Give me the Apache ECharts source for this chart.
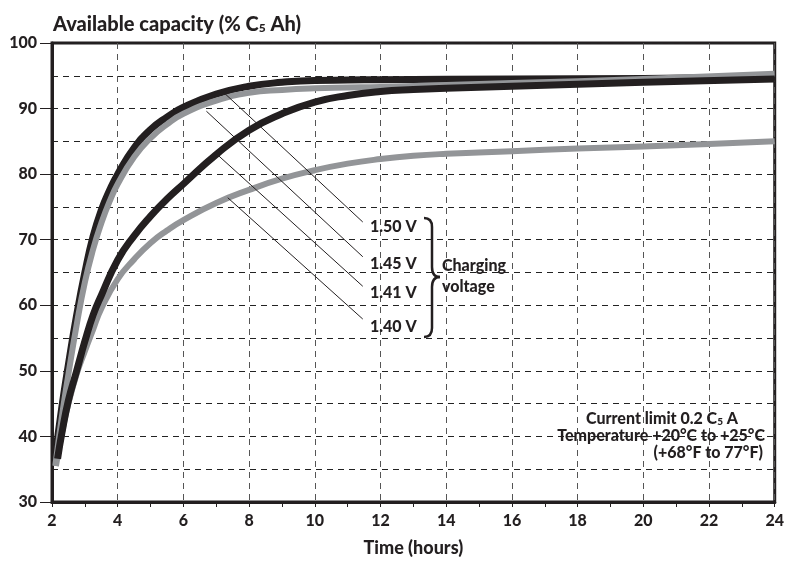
<!DOCTYPE html>
<html>
<head>
<meta charset="utf-8">
<script src="https://cdn.jsdelivr.net/npm/echarts@6/dist/echarts.min.js"></script>
<style>
html,body{margin:0;padding:0;background:#fff;}
#chart{width:787px;height:562px;}
</style>
</head>
<body>
<div id="chart"></div>
<script>
// ---- data ----
var xTicks = [2, 4, 6, 8, 10, 12, 14, 16, 18, 20, 22, 24];
var yTicks = [30, 40, 50, 60, 70, 80, 90, 100];
var seriesNames = ['1.40 V', '1.50 V', '1.45 V', '1.41 V'];
var v140 = [[2.12,35.5],[2.3,40.5],[2.5,45],[2.75,49.5],[3.0,53],[3.25,56.3],[3.5,59.5],[4,64],[4.5,67],[5,69.5],[5.5,71.4],[6,73],[7,75.6],[8,77.6],[9,79.3],[10,80.6],[11,81.6],[12,82.3],[13,82.8],[14,83.1],[16,83.5],[18,83.9],[20,84.2],[22,84.6],[24,85]];
var v150 = [[2.1,37],[2.3,44.5],[2.5,51],[2.75,58.5],[3.0,65],[3.25,70.5],[3.5,74.5],[3.75,77.5],[4.0,80],[4.5,84],[5,86.8],[5.5,88.7],[6,90.2],[7,92.2],[8,93.4],[9,94],[10,94.3],[11,94.35],[12,94.4],[16,94.5],[20,94.6],[24,94.8]];
var v145 = [[2.1,35.5],[2.3,43],[2.5,49.5],[2.75,57],[3.0,63.5],[3.25,68.5],[3.5,72.5],[3.75,75.8],[4.0,78.5],[4.5,82.6],[5,85.5],[5.5,87.6],[6,89.2],[7,91.2],[8,92.4],[9,92.85],[10,93.1],[11,93.2],[12,93.3],[14,93.6],[16,93.9],[20,94.5],[24,95.3]];
var v141 = [[2.17,36.6],[2.3,40.5],[2.5,45.5],[2.75,50],[3.0,54.5],[3.25,58.5],[3.5,61.5],[4,66.9],[4.5,70.6],[5,73.6],[5.5,76.2],[6,78.5],[7,83],[8,86.7],[9,89.2],[10,91],[11,92],[12,92.6],[13,92.9],[14,93.1],[16,93.4],[20,94],[24,94.5]];
// leader lines (data coords): [curve point, label point]
var leaders150 = [[7.26,92.3],[11.46,72.7]];
var leaders145 = [[6.70,89.6],[11.46,67.4]];
var leaders141 = [[7.05,82.9],[11.46,62.9]];
var leaders140 = [[7.35,76.4],[11.46,57.9]];

var FONT = 'Lato, "Open Sans", sans-serif';
var BLACK = '#231f20';
var GRAY = '#939598';
var W = '900';

function leader(pts) {
  return {
    silent: true, symbol: ['none','none'],
    lineStyle: {color: BLACK, width: 1, type: 'solid'},
    label: {show: false},
    emphasis: {disabled: true},
    data: [[{coord: pts[0]}, {coord: pts[1]}]]
  };
}
function mk(name, data, color, width, z, lead) {
  return {
    name: name, type: 'line', data: data, showSymbol: false, symbol: 'none',
    smooth: 0.5, z: z,
    lineStyle: {color: color, width: width, cap: 'butt', join: 'round'},
    markLine: leader(lead), animation: false
  };
}
var braceStyle = {fill: null, stroke: BLACK, lineWidth: 2.5};
function bez(x1,y1,cx,cy,x2,y2){ return {type:'bezierCurve', z:10, shape:{x1:x1,y1:y1,cpx1:cx,cpy1:cy,x2:x2,y2:y2}, style: braceStyle}; }
function seg(x1,y1,x2,y2){ return {type:'line', z:10, shape:{x1:x1,y1:y1,x2:x2,y2:y2}, style: braceStyle}; }
function txt(t, x, y, size, align) {
  return {type: 'text', z: 10, x: x, y: y, style: {text: t, font: W + ' ' + size + 'px ' + FONT, fill: BLACK, align: align || 'left', verticalAlign: 'middle',
    rich: {s: {font: W + ' ' + Math.round(size*0.65) + 'px ' + FONT, fill: BLACK, padding: [5,0,0,0]}}}};
}

var chart = echarts.init(document.getElementById('chart'), null, {renderer: 'canvas'});
var option = {
  animation: false,
  title: {
    text: 'Available capacity (% C{s|5} Ah)',
    left: 48, top: 10,
    textStyle: {fontFamily: FONT, fontWeight: W, fontSize: 20, color: BLACK,
      rich: {s: {fontFamily: FONT, fontWeight: W, fontSize: 12, color: BLACK, padding: [7,0,0,0]}}}
  },
  grid: {left: 52, right: 11, top: 43, bottom: 53, show: true, borderColor: BLACK, borderWidth: 3, containLabel: false},
  xAxis: {
    type: 'value', min: 2, max: 24, interval: 2,
    name: 'Time (hours)', nameLocation: 'middle', nameGap: 37,
    nameTextStyle: {fontFamily: FONT, fontWeight: W, fontSize: 18, color: BLACK, verticalAlign: 'top'},
    axisLine: {show: true, lineStyle: {color: BLACK, width: 3}},
    axisTick: {show: true, length: 5, lineStyle: {color: BLACK, width: 1}},
    minorTick: {show: true, splitNumber: 2, length: 5, lineStyle: {color: BLACK, width: 1}},
    axisLabel: {fontFamily: FONT, fontWeight: W, fontSize: 16, color: BLACK, margin: 11,
      formatter: function(v){ return xTicks.indexOf(v) >= 0 ? String(v) : ''; }},
    splitLine: {show: true, lineStyle: {color: '#555', width: 1, type: [6,5]}}
  },
  yAxis: {
    type: 'value', min: 30, max: 100, interval: 10,
    axisLine: {show: true, lineStyle: {color: BLACK, width: 3}},
    axisTick: {show: true, length: 12, lineStyle: {color: BLACK, width: 1}},
    minorTick: {show: false, splitNumber: 2},
    minorSplitLine: {show: true, lineStyle: {color: '#222', width: 1, type: [6,5]}},
    axisLabel: {fontFamily: FONT, fontWeight: W, fontSize: 16, color: BLACK, margin: 15,
      formatter: function(v){ return yTicks.indexOf(v) >= 0 ? String(v) : ''; }},
    splitLine: {show: true, lineStyle: {color: '#222', width: 1, type: [6,5]}}
  },
  series: [
    mk(seriesNames[0], v140, GRAY, 6, 2, leaders140),
    mk(seriesNames[1], v150, BLACK, 7, 3, leaders150),
    mk(seriesNames[2], v145, GRAY, 6, 4, leaders145),
    mk(seriesNames[3], v141, BLACK, 7, 5, leaders141)
  ],
  graphic: [
    txt('1.50 V', 370, 227, 16),
    txt('1.45 V', 370, 264, 16),
    txt('1.41 V', 370, 293, 16),
    txt('1.40 V', 370, 327, 16),
    bez(424,218, 432,218, 432,227),
    seg(432,227, 432,267),
    bez(432,267, 432,277, 440,277),
    bez(440,277, 432,277, 432,287),
    seg(432,287, 432,328),
    bez(432,328, 432,337, 424,337),
    txt('Charging', 442, 266, 16),
    txt('voltage', 442, 287, 16),
    txt('Current limit 0.2 C{s|5} A', 738, 419, 16, 'right'),
    txt('Temperature +20°C to +25°C', 765, 436, 16, 'right'),
    txt('(+68°F to 77°F)', 763, 453, 16, 'right')
  ]
};
chart.setOption(option);
</script>
</body>
</html>
